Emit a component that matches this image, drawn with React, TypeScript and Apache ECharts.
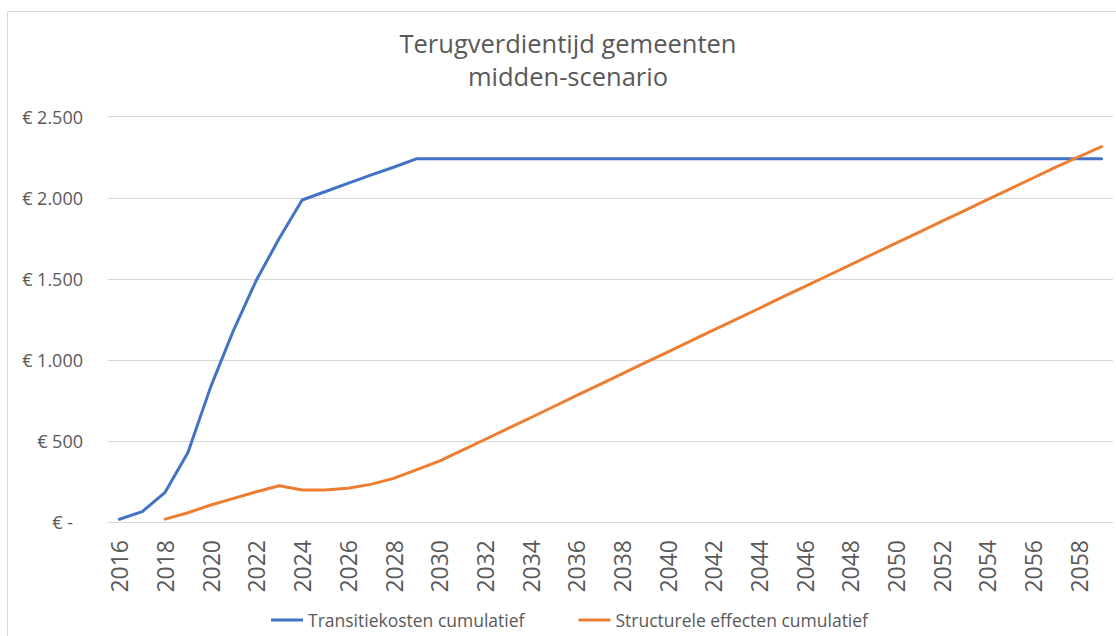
import React, { useEffect, useRef } from "react";
import * as echarts from "echarts";

const years: string[] = [];
for (let y = 2016; y <= 2059; y++) years.push(String(y));

const transitiekosten: (number | null)[] = [
  17, 64, 183, 428, 835, 1184, 1493, 1750, 1986, 2037, 2089, 2140, 2188, 2240,
  2240, 2240, 2240, 2240, 2240, 2240, 2240, 2240, 2240, 2240, 2240, 2240, 2240,
  2240, 2240, 2240, 2240, 2240, 2240, 2240, 2240, 2240, 2240, 2240, 2240, 2240,
  2240, 2240, 2240, 2240,
];

const structureleEffecten: (number | null)[] = [
  null, null, 18, 57, 105, 146, 187, 224, 197, 197, 208, 232, 269, 321,
  375, 442, 509, 576, 643, 711, 779, 846, 914, 981, 1048, 1116, 1183, 1250,
  1317, 1385, 1452, 1519, 1586, 1653, 1720, 1787, 1854, 1921, 1988, 2055,
  2122, 2189, 2253, 2315,
];

const seriesNames = ["Transitiekosten cumulatief", "Structurele effecten cumulatief"];
const titleLines = ["Terugverdientijd gemeenten", "midden-scenario"];

const FONT = "'Open Sans', 'Noto Sans', sans-serif";
const TEXT = "#595959";

function fmt(v: number): string {
  return String(v).replace(/\B(?=(\d{3})+(?!\d))/g, ".");
}

export default function App() {
  const ref = useRef<HTMLDivElement>(null);
  useEffect(() => {
    if (!ref.current) return;
    const chart = echarts.init(ref.current, undefined, { renderer: "svg" });
    chart.setOption({
      animation: false,
      backgroundColor: "#ffffff",
      textStyle: { fontFamily: FONT },
      graphic: [
        {
          type: "rect",
          shape: { x: 7.5, y: 11.5, width: 1300, height: 800 },
          style: { fill: "none", stroke: "#D9D9D9", lineWidth: 1 },
          silent: true,
          z: -10,
        },
        ...titleLines.map((t, i) => ({
          type: "text",
          x: 568,
          y: 43 + i * 33,
          silent: true,
          style: {
            text: t,
            fill: TEXT,
            font: `normal 25.5px ${FONT}`,
            textAlign: "center",
            textVerticalAlign: "middle",
          },
        })),
      ],
      legend: {
        left: 266,
        top: 606,
        icon: "rect",
        itemWidth: 32,
        itemHeight: 3,
        itemGap: 54,
        textStyle: { fontFamily: FONT, fontSize: 17.5, color: TEXT },
        data: seriesNames,
      },
      grid: {
        left: 108,
        right: 3,
        top: 116.7,
        bottom: 114,
        containLabel: false,
        outerBoundsMode: "none",
      },
      xAxis: {
        type: "category",
        data: years,
        boundaryGap: true,
        axisTick: { show: false },
        axisLine: { lineStyle: { color: "#D9D9D9", width: 1 } },
        axisLabel: {
          interval: 1,
          rotate: 90,
          margin: 18,
          fontFamily: FONT,
          fontSize: 23,
          color: TEXT,
        },
      },
      yAxis: {
        type: "value",
        min: 0,
        max: 2500,
        interval: 500,
        axisLine: { show: false },
        axisTick: { show: false },
        splitLine: { lineStyle: { color: "#D9D9D9", width: 1 } },
        axisLabel: {
          margin: 25,
          fontFamily: FONT,
          fontSize: 18,
          color: TEXT,
          formatter: (v: number) => (v === 0 ? "{z|€ -}" : "€ " + fmt(v)),
          rich: {
            z: { padding: [0, 10, 0, 0], fontFamily: FONT, fontSize: 18, color: TEXT },
          },
        },
      },
      series: [
        {
          name: seriesNames[0],
          type: "line",
          data: transitiekosten,
          symbol: "none",
          itemStyle: { color: "#4472C4" },
          lineStyle: { color: "#4472C4", width: 3, cap: "round", join: "round" },
        },
        {
          name: seriesNames[1],
          type: "line",
          data: structureleEffecten,
          symbol: "none",
          itemStyle: { color: "#ED7D31" },
          lineStyle: { color: "#ED7D31", width: 3, cap: "round", join: "round" },
        },
      ],
    });
    return () => chart.dispose();
  }, []);
  return (
    <div
      ref={ref}
      style={{ position: "absolute", left: 0, top: 0, width: 1116, height: 636, background: "#fff" }}
    />
  );
}
